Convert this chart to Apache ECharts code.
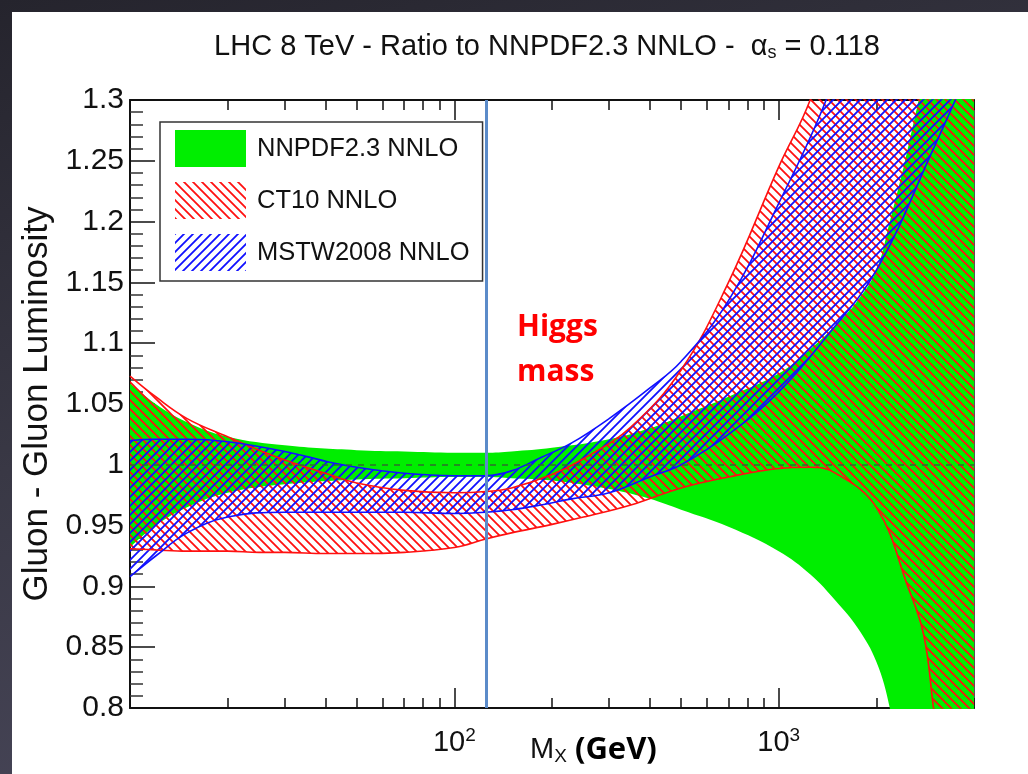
<!DOCTYPE html>
<html>
<head>
<meta charset="utf-8">
<title>Gluon - Gluon Luminosity ratio</title>
<script src="https://cdn.jsdelivr.net/npm/echarts@6/dist/echarts.min.js"></script>
<style>
html, body { margin: 0; padding: 0; }
body {
  width: 1028px; height: 774px; overflow: hidden; position: relative;
  background: linear-gradient(165deg, #25242d 0%, #393845 45%, #4d4b60 100%);
}
#chart-panel {
  position: absolute; left: 12px; top: 12px;
  width: 1016px; height: 762px; background: #fff;
}
</style>
</head>
<body>
<div id="chart-panel"></div>
<script>
// ratio bands, masses in GeV
var nnpdfMass = [10, 12, 15, 20, 30, 50, 70, 100, 125, 150, 200, 300, 400, 500, 700, 1000, 1250, 1500, 1750, 2000, 2200, 2500, 3000, 4000];
var nnpdfUp   = [1.067, 1.05, 1.035, 1.023, 1.016, 1.012, 1.011, 1.010, 1.010, 1.011, 1.014, 1.021, 1.03, 1.04, 1.056, 1.075, 1.095, 1.115, 1.135, 1.16, 1.2, 1.26, 1.36, 1.55];
var nnpdfLo   = [0.932, 0.95, 0.965, 0.977, 0.984, 0.988, 0.989, 0.99, 0.99, 0.989, 0.987, 0.98, 0.972, 0.963, 0.949, 0.929, 0.91, 0.888, 0.866, 0.838, 0.8, 0.72, 0.6, 0.45];

var ct10Mass = [10, 12, 15, 20, 25, 30, 40, 50, 70, 100, 125, 150, 200, 250, 350, 500, 700, 1000, 1250, 1500, 2000, 2500, 2800, 3000, 4000];
var ct10Up   = [1.073, 1.056, 1.038, 1.023, 1.012, 1.004, 0.993, 0.985, 0.979, 0.977, 0.978, 0.981, 0.992, 1.005, 1.031, 1.078, 1.15, 1.245, 1.3, 1.37, 1.5, 1.65, 1.75, 1.8, 2.0];
var ct10Lo   = [0.931, 0.930, 0.929, 0.929, 0.928, 0.928, 0.927, 0.927, 0.928, 0.932, 0.939, 0.944, 0.951, 0.957, 0.967, 0.981, 0.99, 0.997, 0.998, 0.993, 0.965, 0.90, 0.86, 0.80, 0.55];

var mstwMass = [10, 12, 15, 20, 30, 40, 50, 70, 100, 125, 150, 185, 230, 300, 400, 500, 700, 1000, 1400, 2000, 3000, 4000];
var mstwUp   = [1.02, 1.021, 1.021, 1.019, 1.011, 1.003, 0.998, 0.993, 0.991, 0.991, 0.995, 1.006, 1.018, 1.038, 1.063, 1.085, 1.135, 1.215, 1.3, 1.42, 1.65, 1.85];
var mstwLo   = [0.908, 0.925, 0.944, 0.957, 0.961, 0.961, 0.961, 0.961, 0.960, 0.961, 0.963, 0.967, 0.972, 0.977, 0.99, 1.0, 1.025, 1.06, 1.105, 1.16, 1.26, 1.335];

var higgsMass = 125;
var xMajorTicks = [100, 1000];
var xMinorTicks = [20, 30, 40, 50, 60, 70, 80, 90, 200, 300, 400, 500, 600, 700, 800, 900, 2000, 3000, 4000];

var font = "'Liberation Sans', Arial, sans-serif";

// hatch tiles: dir 1 = "/", dir -1 = "\"
function hatch(color, dir) {
  var s = 9;
  var c = document.createElement('canvas');
  c.width = s; c.height = s;
  var g = c.getContext('2d');
  g.strokeStyle = color;
  g.lineWidth = 1.8;
  g.beginPath();
  if (dir > 0) {
    g.moveTo(-1, s + 1); g.lineTo(s + 1, -1);
    g.moveTo(-1, 1); g.lineTo(1, -1);
    g.moveTo(s - 1, s + 1); g.lineTo(s + 1, s - 1);
  } else {
    g.moveTo(-1, -1); g.lineTo(s + 1, s + 1);
    g.moveTo(s - 1, -1); g.lineTo(s + 1, 1);
    g.moveTo(-1, s - 1); g.lineTo(1, s + 1);
  }
  g.stroke();
  return { image: c, repeat: 'repeat' };
}

var green = '#00ee00';
var redHatch = hatch('#ff1010', -1);
var blueHatch = hatch('#1010ff', 1);

// value first, mass second: the stack then runs on the ratio (y), not on x
function band(name, key, mass, lo, up, fill, edge) {
  var edgeStyle = edge ? { color: edge, width: 1.6 } : { opacity: 0 };
  return [
    {
      name: key + '-low', type: 'line', stack: key, smooth: 0.4,
      symbol: 'none', lineStyle: edgeStyle, encode: { x: 1, y: 0 },
      data: mass.map(function (m, i) { return [lo[i], m]; })
    },
    {
      name: name, type: 'line', stack: key, smooth: 0.4,
      symbol: 'none', lineStyle: edgeStyle, encode: { x: 1, y: 0 },
      areaStyle: { color: fill, opacity: 1 },
      data: mass.map(function (m, i) { return [+(up[i] - lo[i]).toFixed(4), m]; })
    }
  ];
}

var series = [].concat(
  band('NNPDF2.3 NNLO', 'nn', nnpdfMass, nnpdfLo, nnpdfUp, green, null),
  band('CT10 NNLO', 'ct', ct10Mass, ct10Lo, ct10Up, redHatch, '#ff1010'),
  band('MSTW2008 NNLO', 'mstw', mstwMass, mstwLo, mstwUp, blueHatch, '#1010ff')
);

// central NNPDF line and the Higgs mass marker
series[series.length - 1].markLine = {
  silent: true,
  symbol: 'none',
  label: { show: false },
  data: [
    { yAxis: 1, lineStyle: { color: '#2e6e2e', width: 1.5, type: [6, 6] } },
    { xAxis: higgsMass, lineStyle: { color: '#5b8bc9', width: 3, type: 'solid' } }
  ]
};

function logAxis(pos, ticks, len, showLine, showLabel) {
  return {
    type: 'log', logBase: 10, min: 10, max: 4000, position: pos,
    axisLine: { show: showLine, onZero: false, lineStyle: { color: '#111', width: 2 } },
    axisTick: { inside: true, length: len, customValues: ticks, lineStyle: { color: '#111', width: 1.5 } },
    axisLabel: showLabel ? {
      customValues: ticks, margin: 18, color: '#111', fontFamily: font, fontSize: 29,
      formatter: function (v) { return '10{sup|' + Math.round(Math.log10(v)) + '}'; },
      rich: { sup: { fontSize: 19, fontFamily: font, color: '#111', padding: [0, 0, 14, 0] } }
    } : { show: false },
    splitLine: { show: false }
  };
}

var chart = echarts.init(document.getElementById('chart-panel'));

var option = {
  animation: false,
  backgroundColor: '#fff',
  grid: { left: 118, top: 88, right: 54, bottom: 66, containLabel: false, outerBoundsMode: 'none' },
  xAxis: [
    logAxis('bottom', xMajorTicks, 20, true, true),
    logAxis('bottom', xMinorTicks, 10, false, false),
    logAxis('top', xMajorTicks, 20, true, false),
    logAxis('top', xMinorTicks, 10, false, false)
  ],
  yAxis: [
    {
      type: 'value', min: 0.8, max: 1.3, interval: 0.05, position: 'left',
      name: 'Gluon - Gluon Luminosity', nameLocation: 'middle', nameGap: 65,
      nameTextStyle: { fontFamily: font, fontSize: 35, color: '#111' },
      axisLine: { show: true, lineStyle: { color: '#111', width: 2 } },
      axisTick: { inside: true, length: 25, lineStyle: { color: '#111', width: 1.5 } },
      minorTick: { show: true, splitNumber: 5, length: 13, lineStyle: { color: '#333', width: 1.5 } },
      axisLabel: { margin: 6, color: '#111', fontFamily: font, fontSize: 30 },
      splitLine: { show: false }
    },
    {
      type: 'value', min: 0.8, max: 1.3, position: 'right',
      axisLine: { show: true, lineStyle: { color: '#555', width: 2 } },
      axisTick: { show: false }, axisLabel: { show: false }, splitLine: { show: false }
    }
  ],
  legend: {
    orient: 'vertical', left: 148, top: 110,
    padding: [8, 13, 10, 15], itemGap: 15,
    itemWidth: 71, itemHeight: 37,
    borderColor: '#333', borderWidth: 1.5, backgroundColor: '#fff',
    textStyle: { fontFamily: font, fontSize: 25.5, color: '#111', padding: [0, 0, 0, 6] },
    itemStyle: { borderWidth: 0 },
    data: [
      { name: 'NNPDF2.3 NNLO', icon: 'rect', itemStyle: { color: green } },
      { name: 'CT10 NNLO', icon: 'rect', itemStyle: { color: redHatch } },
      { name: 'MSTW2008 NNLO', icon: 'rect', itemStyle: { color: blueHatch } }
    ]
  },
  graphic: [
    {
      type: 'text', x: 535, y: 35, z: 100,
      style: {
        text: 'LHC 8 TeV - Ratio to NNPDF2.3 NNLO -  {a|α}{s|s} = 0.118',
        fontFamily: font, fontSize: 29, fill: '#111',
        align: 'center', verticalAlign: 'middle',
        rich: {
          a: { fontFamily: font, fontSize: 29, fill: '#111' },
          s: { fontFamily: font, fontSize: 18, fill: '#111', padding: [13, 0, 0, 0] }
        }
      }
    },
    {
      type: 'text', x: 505, y: 293, z: 100,
      style: {
        text: 'Higgs\nmass', fontFamily: "'Open Sans', sans-serif", fontWeight: 'bold',
        fontSize: 30, lineHeight: 45, fill: '#ff0000', align: 'left', verticalAlign: 'top'
      }
    },
    {
      type: 'text', x: 518, y: 738, z: 100,
      style: {
        text: '{m|M}{x|X}{g| (GeV)}', align: 'left', verticalAlign: 'middle',
        rich: {
          m: { fontFamily: font, fontSize: 29, fill: '#111' },
          x: { fontFamily: font, fontSize: 19, fill: '#111', padding: [14, 0, 0, 0] },
          g: { fontFamily: "'Open Sans', sans-serif", fontWeight: 'bold', fontSize: 31, fill: '#000' }
        }
      }
    }
  ],
  series: series
};

chart.setOption(option);
</script>
</body>
</html>
